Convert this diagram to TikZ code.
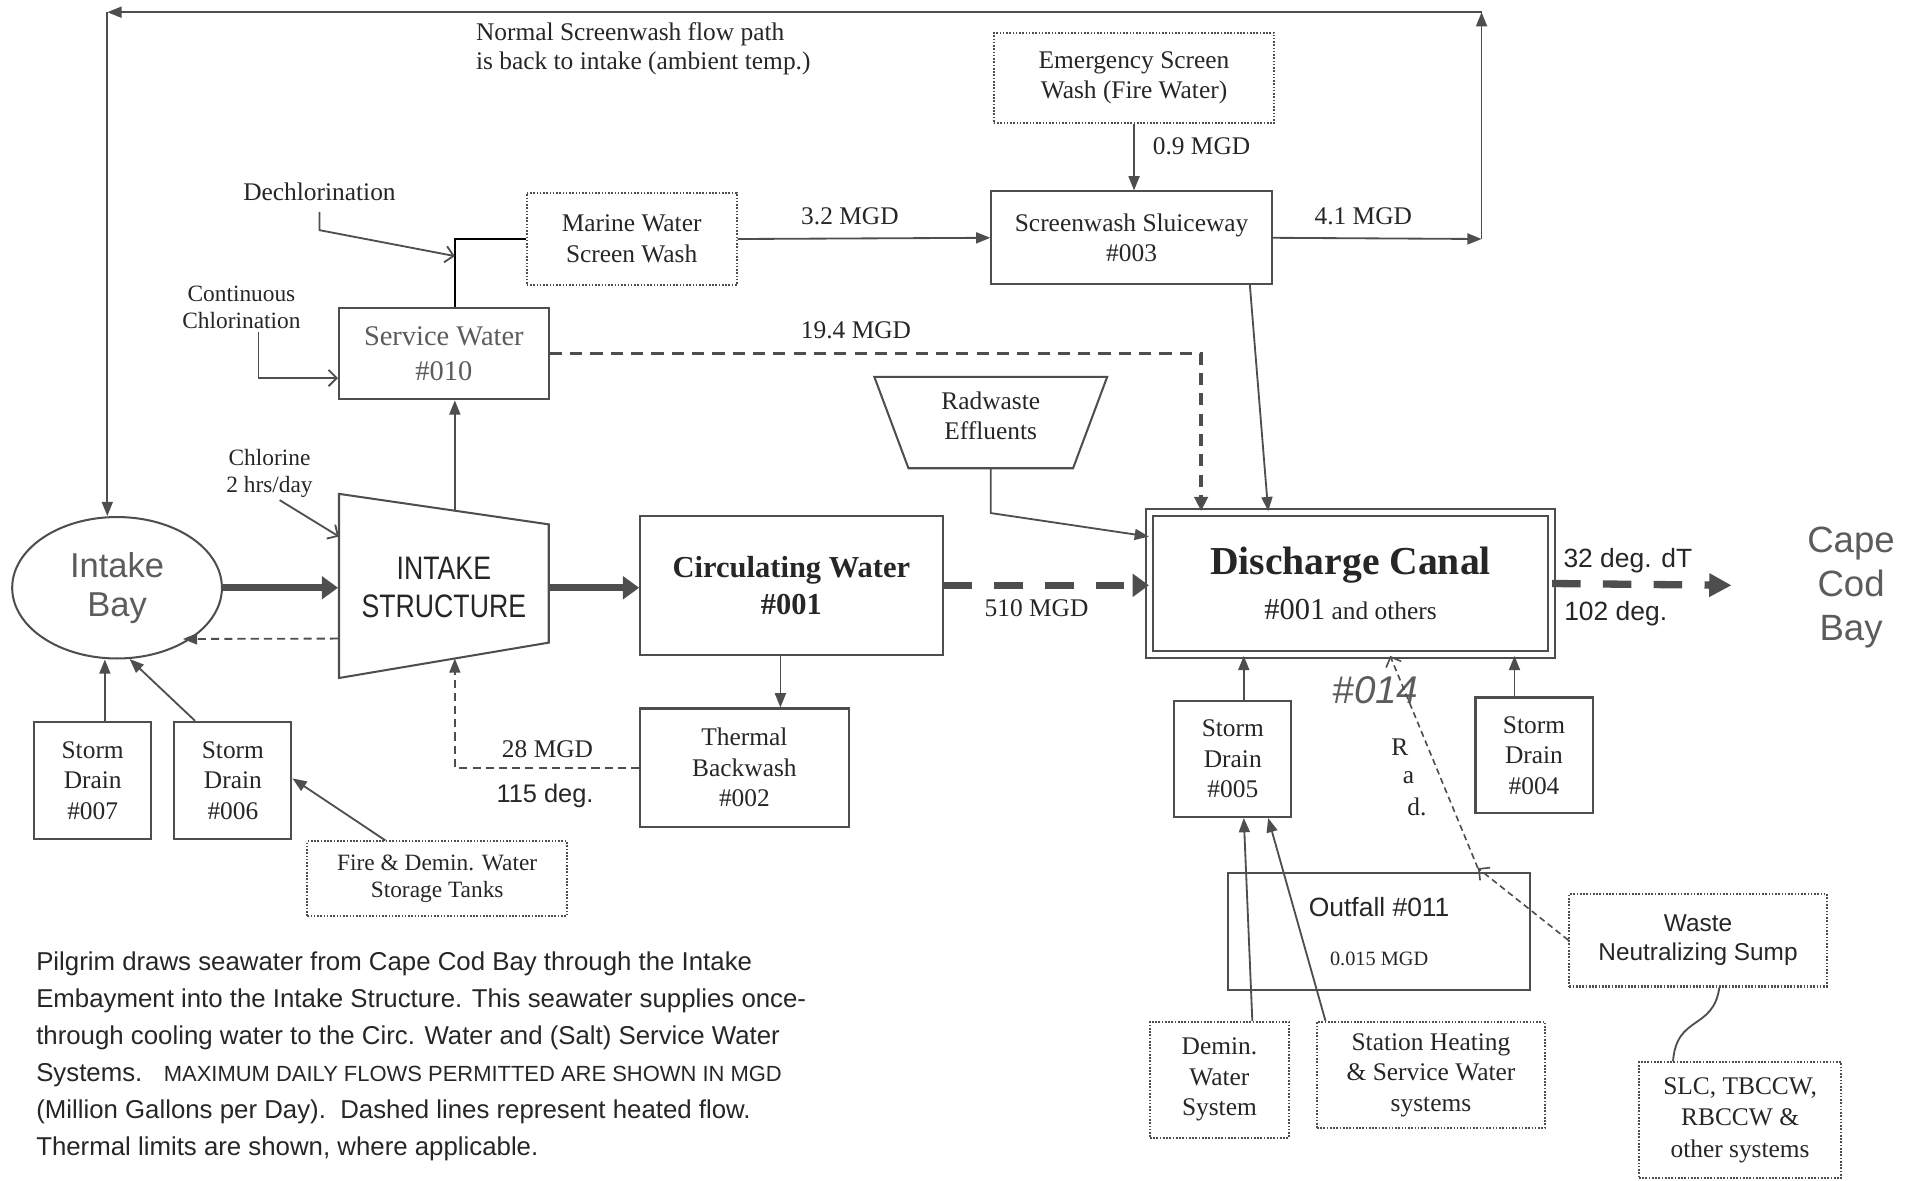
\documentclass[tikz,border=0pt]{standalone}
\usepackage{fontspec}
\setmainfont{Liberation Serif}
\setsansfont{Liberation Sans}
\newfontfamily\narrowsans[FakeStretch=0.82]{Liberation Sans}
\usetikzlibrary{arrows.meta,shapes.geometric}
\tikzset{
    every picture/.style={
        line width=0.9pt
    },
    % Boxes for outfalls and plant systems
    flow box/.style={
        draw=lineGray, line width=1pt, rectangle, align=center,
        inner sep=2pt, text=inkGray,
        font=\fontsize{12.5}{15}\selectfont
    },
    dotted box/.style={flow box, dash pattern=on 0.8pt off 0.8pt},
    % Free labels
    flow label/.style={text=inkGray, align=center, inner sep=1pt,
        font=\fontsize{12.5}{14.5}\selectfont},
    sans label/.style={text=inkGray, align=center, inner sep=1pt,
        font=\sffamily\fontsize{12.5}{14.5}\selectfont},
    % Connectors
    flow arrow/.style={draw=lineGray, -{Triangle[length=7pt,width=5.4pt]}},
    feed arrow/.style={draw=lineGray, -{Straight Barb[length=4pt,width=8pt]}},
    main arrow/.style={draw=lineGray, line width=3.6pt,
        -{Triangle[length=8pt,width=11pt]}},
    heated main/.style={main arrow, dash pattern=on 14pt off 11pt},
    heated line/.style={draw=lineGray, line width=1.8pt,
        dash pattern=on 6pt off 4pt},
    heated thin/.style={draw=lineGray, line width=0.9pt,
        dash pattern=on 4pt off 2.5pt}
}
\definecolor{lineGray}{RGB}{78,78,78}
\definecolor{inkGray}{RGB}{38,38,38}
\definecolor{softGray}{RGB}{92,92,92}

\begin{document}
\begin{tikzpicture}[x=0.6pt,y=-0.6pt]

% Set the canvas size
\path[use as bounding box] (0,0) rectangle (1568,968);

% Intake side
\node[draw=lineGray, line width=1pt, ellipse, minimum width=103.2pt,
    minimum height=69.6pt, align=center, text=softGray,
    font=\sffamily\fontsize{17}{19}\selectfont] (bay) at (96,482) {Intake\\Bay};
\draw[draw=lineGray, line width=1pt] (278,405) -- (450,430) -- (450,527) -- (278,556) -- cycle;
\node[minimum width=103.2pt, minimum height=90.6pt, align=center, text=inkGray,
    font=\narrowsans\fontsize{16}{18.5}\selectfont] (intake) at (364,482) {INTAKE\\STRUCTURE};
\coordinate (intakeTop) at (373,419);
\coordinate (intakeBot) at (373,540);
\coordinate (chlTip) at (278,440);
\coordinate (bayRight) at (150,524);

\node[flow label, font=\fontsize{11.5}{13.2}\selectfont] (chlorine) at (221,388) {Chlorine\\2 hrs/day};
\node[flow label, font=\fontsize{11.5}{13.2}\selectfont] (contchl) at (198,252) {Continuous\\Chlorination};
\node[flow label] (dechlor) at (262,157) {Dechlorination};

\node[flow box, minimum width=57.6pt, minimum height=57.6pt] (sd007) at (76,640) {Storm\\Drain\\\#007};
\node[flow box, minimum width=57.6pt, minimum height=57.6pt] (sd006) at (191,640) {Storm\\Drain\\\#006};
\node[dotted box, minimum width=127.8pt, minimum height=36.6pt,
    font=\fontsize{11.5}{13.2}\selectfont] (tanks) at (358.5,720.5) {Fire \& Demin. Water\\Storage Tanks};

% Service water and screen wash
\node[flow box, minimum width=103.2pt, minimum height=45pt, text=softGray,
    font=\fontsize{14}{17.4}\selectfont] (service) at (364,290) {Service Water\\\#010};
\node[dotted box, minimum width=103.2pt, minimum height=45.6pt] (marine) at (518,196) {Marine Water\\Screen Wash};
\node[flow box, minimum width=138pt, minimum height=45.6pt] (sluice) at (928,195) {Screenwash Sluiceway\\\#003};
\node[dotted box, minimum width=138pt, minimum height=44.4pt] (emerg) at (930,64) {Emergency Screen\\Wash (Fire Water)};
\node[flow label, anchor=west, align=left] (normal) at (388,40) {Normal Screenwash flow path\\is back to intake (ambient temp.)};
\coordinate (dechlTip) at (373,210);
\coordinate (washR) at (1215,196);
\coordinate (washTop) at (1215,10);
\coordinate (washL) at (88,10);

% Circulating water and discharge
\node[flow box, minimum width=148.8pt, minimum height=68.4pt,
    font=\bfseries\fontsize{15}{18}\selectfont] (circ) at (649,480) {Circulating Water\\\#001};
\node[flow box, minimum width=102.6pt, minimum height=58.2pt] (thermal) at (610.5,629.5) {Thermal\\Backwash\\\#002};
\draw[draw=lineGray, line width=1pt] (717,309) -- (908,309) -- (880,384) -- (745,384) -- cycle;
\node[flow label, minimum height=51.6pt] (radwaste) at (812.5,341) {Radwaste\\Effluents};
\node[flow box, minimum width=197.4pt, minimum height=70.2pt, double=white,
    double distance=2.4pt] (discharge) at (1107.5,478.5)
    {{\bfseries\fontsize{19.5}{22}\selectfont Discharge Canal}\\[7pt]
     {\fontsize{15}{17}\selectfont\#001} {\fontsize{12.5}{14}\selectfont and others}};
\node[align=center, text=softGray, inner sep=1pt,
    font=\sffamily\fontsize{18}{21.6}\selectfont] (cape) at (1518,482) {Cape\\Cod\\Bay};
\coordinate (capeIn) at (1420,480);

% Southern outfalls
\node[flow box, minimum width=57.6pt, minimum height=57pt] (sd005) at (1011,622.5) {Storm\\Drain\\\#005};
\node[flow box, minimum width=57.6pt, minimum height=57pt] (sd004) at (1258,619.5) {Storm\\Drain\\\#004};
\node[flow box, minimum width=148.8pt, minimum height=57.6pt] (outfall) at (1131,764)
    {{\sffamily\fontsize{13}{15}\selectfont Outfall \#011}\\[9pt]{\fontsize{10}{12}\selectfont 0.015 MGD}};
\node[dotted box, minimum width=68.4pt, minimum height=57pt] (demin) at (1000,885.5) {Demin.\\Water\\System};
\node[dotted box, minimum width=112.2pt, minimum height=52.2pt] (station) at (1173.5,881.5) {Station Heating\\\& Service Water\\systems};
\node[dotted box, minimum width=126.6pt, minimum height=45.6pt,
    font=\sffamily\fontsize{12}{14.4}\selectfont] (waste) at (1392.5,771) {Waste\\Neutralizing Sump};
\node[dotted box, minimum width=99.6pt, minimum height=57pt,
    font=\fontsize{12.5}{15.6}\selectfont] (slc) at (1427,918.5) {SLC, TBCCW,\\RBCCW \&\\other systems};
\coordinate (wasteMid) at (1212,712);
\node[text=softGray, inner sep=0pt, font=\sffamily\itshape\fontsize{19}{20}\selectfont] (rad014) at (1128,566) {\#014};
\node[flow label] (radR) at (1148,613) {R};
\node[flow label] (radA) at (1155,638) {a};
\node[flow label] (radD) at (1162,662) {d.};

% Flow values and thermal limits
\node[flow label, anchor=west] (mgdEmerg) at (943,120) {0.9 MGD};
\node[flow label] (mgdMarine) at (697,177) {3.2 MGD};
\node[flow label] (mgdSluice) at (1118,177) {4.1 MGD};
\node[flow label] (mgdService) at (702,271) {19.4 MGD};
\node[flow label] (mgdCirc) at (850,499) {510 MGD};
\node[flow label] (mgdThermal) at (449,614) {28 MGD};
\node[sans label] (degThermal) at (447,653) {115 deg.};
\node[sans label, font=\sffamily\fontsize{13}{15}\selectfont] (degDelta) at (1335,460) {32 deg. dT};
\node[sans label, font=\sffamily\fontsize{13}{15}\selectfont] (degOut) at (1325,503) {102 deg.};

% Notes
\node[anchor=north west, align=left, inner sep=0pt, text=inkGray,
    font=\sffamily\fontsize{12.7}{18.2}\selectfont] (notes) at (29,780)
    {Pilgrim draws seawater from Cape Cod Bay through the Intake\\
     Embayment into the Intake Structure. This seawater supplies once-\\
     through cooling water to the Circ. Water and (Salt) Service Water\\
     Systems.\ \ \ {\fontsize{10.8}{18.2}\selectfont MAXIMUM DAILY FLOWS PERMITTED ARE SHOWN IN MGD}\\
     (Million Gallons per Day).\ \ Dashed lines represent heated flow.\\
     Thermal limits are shown, where applicable.};

% Connectors: intake side
\draw[main arrow] (bay.east) -- (intake.west);
\draw[main arrow] (intake.east) -- (intake.east -| circ.west);
\draw[heated thin, -{Triangle[length=7pt,width=5.4pt]}] ([yshift=-25pt]intake.west) -- (bayRight);
\draw[flow arrow] (intakeTop) -- (intakeTop |- service.south);
\draw[feed arrow] ([xshift=5pt]chlorine.south) -- (chlTip);
\draw[feed arrow] ([xshift=8.4pt]contchl.south) |- ([yshift=-12pt]service.west);
\draw ([xshift=5.4pt]service.north) |- (marine.west);
\draw[feed arrow] (dechlor.south) ++(0,7) -- ++(0,15) -- (dechlTip);
\draw[flow arrow] ([xshift=6pt]sd007.north) -- ([xshift=6pt]sd007.north |- bay.south);
\draw[flow arrow] ([xshift=-18.6pt]sd006.north) -- (bay.280);
\draw[flow arrow] ([xshift=-25.5pt]tanks.north) -- ([yshift=1pt]sd006.east);

% Connectors: screen wash loop
\draw[flow arrow] (emerg.south) -- (emerg.south |- sluice.north);
\draw[flow arrow] (marine.east) -- (sluice.west);
\draw[flow arrow] (sluice.east) -- (washR);
\draw[flow arrow] (washR) -- (washTop);
\draw[flow arrow] (washTop) -- (washL);
\draw[flow arrow] (washL) -- (washL |- bay.north);
\draw[flow arrow] ([xshift=58.2pt]sluice.south) -- ([xshift=-40.5pt]discharge.north);
\draw[heated line, -{Triangle[length=7pt,width=6.5pt]}] (service.east) -| ([xshift=-73.5pt]discharge.north);

% Connectors: discharge
\draw[heated main] (circ.east) -- (circ.east -| discharge.west);
\draw[flow arrow] (circ.south -| 640,0) -- (thermal.north -| 640,0);
\draw[heated thin, -{Triangle[length=7pt,width=5.4pt]}] (thermal.west) -| (intakeBot);
\draw[flow arrow] (radwaste.south) -- ++(0,36) -- ([yshift=23.1pt]discharge.west);
\draw[heated main, -{Triangle[length=11pt,width=11pt]}] (discharge.east) -- (capeIn);
\draw[flow arrow] ([xshift=5.4pt]sd005.north) -- ([xshift=5.4pt]sd005.north |- discharge.south);
\draw[flow arrow] ([xshift=-9.6pt]sd004.north) -- ([xshift=-9.6pt]sd004.north |- discharge.south);
\draw[flow arrow] ([xshift=16.2pt]demin.north) -- ([xshift=5.4pt]sd005.south);
\draw[flow arrow] ([xshift=-51.9pt]station.north) -- ([xshift=17.4pt]sd005.south);
\draw[heated thin, line width=0.8pt, dash pattern=on 3pt off 2pt,
    -{Straight Barb[length=4pt,width=8pt]}] (waste.west) -- (wasteMid);
\draw[heated thin, line width=0.8pt, dash pattern=on 3pt off 2pt,
    -{Straight Barb[length=4pt,width=8pt]}] (wasteMid) -- ([xshift=19.5pt]discharge.south);
\draw[draw=lineGray] ([xshift=10.5pt]waste.south) .. controls (1405,845) and (1375,832) .. ([xshift=-33pt]slc.north);

\end{tikzpicture}
\end{document}
